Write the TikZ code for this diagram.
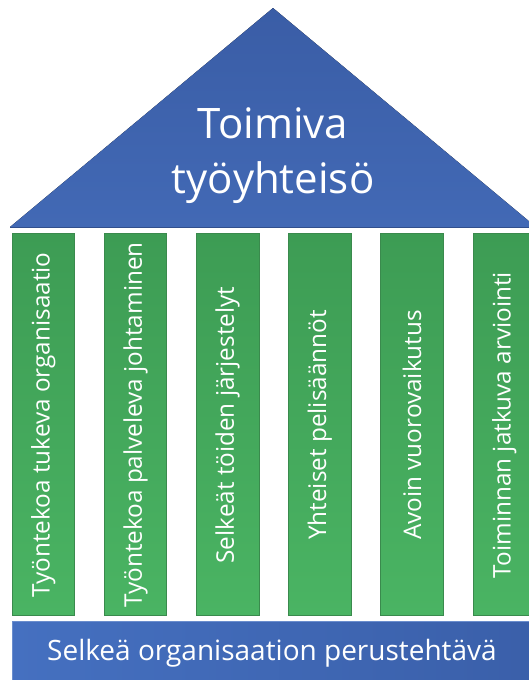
\documentclass[tikz,border=0pt]{standalone}
\usepackage{fontspec}
\setmainfont{Open Sans}
\definecolor{rooftop}{HTML}{3A5DA6}
\definecolor{roofbot}{HTML}{4269B5}
\definecolor{pilltop}{HTML}{3D9C54}
\definecolor{pillbot}{HTML}{4AB463}
\definecolor{pilledge}{HTML}{3A8A4D}
\definecolor{baseleft}{HTML}{4570C0}
\definecolor{baseright}{HTML}{3A5FA9}
\tikzset{
  pillar/.style={draw=pilledge, line width=0.8pt, top color=pilltop, bottom color=pillbot},
  pilltext/.style={text=white, rotate=90, font=\fontsize{24.3}{28}\selectfont, inner sep=0pt},
  rooftext/.style={text=white, font=\fontsize{42}{50}\selectfont, anchor=base, inner sep=0pt},
  basetext/.style={text=white, font=\fontsize{28}{33}\selectfont, anchor=base, inner sep=0pt}
}
\begin{document}
\begin{tikzpicture}[x=1pt,y=-1pt]
\useasboundingbox (0,0) rectangle (529,680);
\begin{scope}
\clip (0,0) rectangle (529,680);
% roof
\fill[top color=rooftop, bottom color=roofbot] (10,227) -- (273,8) -- (536,227) -- cycle;
\draw[rooftop!85!black, line width=0.8pt] (10,227) -- (536,227);
\node[rooftext] (t1) at (273,138) {Toimiva};
\node[rooftext] (t2) at (273,193) {työyhteisö};
% pillars
\foreach \i/\txt in {0/{Työntekoa tukeva organisaatio},1/{Työntekoa palveleva johtaminen},2/{Selkeät töiden järjestelyt},3/{Yhteiset pelisäännöt},4/{Avoin vuorovaikutus},5/{Toiminnan jatkuva arviointi}}{
  \pgfmathsetmacro{\xa}{12+92.2*\i}
  \pgfmathsetmacro{\xb}{\xa+62.5}
  \pgfmathsetmacro{\xc}{\xa+31.25}
  \draw[pillar] (\xa,233) rectangle (\xb,615.5);
  \node[pilltext] (p\i) at (\xc,425) {\txt};
}
% base
\draw[left color=baseleft, right color=baseright, draw=baseleft!80!white, line width=0.8pt] (12,621) rectangle (545,690);
\node[basetext] (b) at (272,660) {Selkeä organisaation perustehtävä};
\end{scope}
\end{tikzpicture}
\end{document}
